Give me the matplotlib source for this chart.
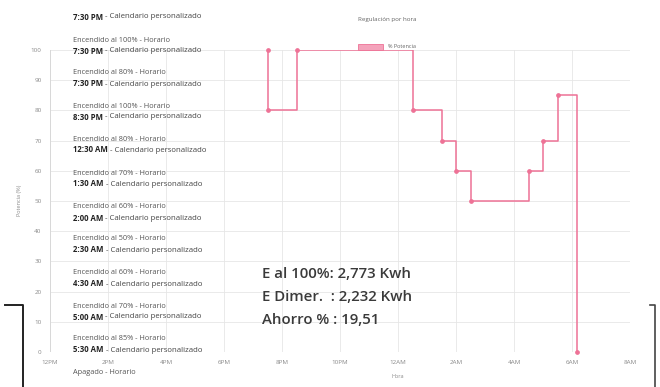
import matplotlib
matplotlib.use("Agg")
import matplotlib.pyplot as plt
from matplotlib.lines import Line2D
from matplotlib.patches import Rectangle

# -----------------------------
# Data
# -----------------------------
event_times = ["19:30", "19:30", "20:30", "00:30", "01:30", "02:00",
               "02:30", "04:30", "05:00", "05:30", "06:10"]
event_levels = [100, 80, 100, 80, 70, 60, 50, 60, 70, 85, 0]
event_labels = ["7:30 PM", "7:30 PM", "8:30 PM", "12:30 AM", "1:30 AM", "2:00 AM",
                "2:30 AM", "4:30 AM", "5:00 AM", "5:30 AM", "6:10 AM"]

x_ticks_h = [0, 2, 4, 6, 8, 10, 12, 14, 16, 18, 20]
x_tick_labels = ["12PM", "2PM", "4PM", "6PM", "8PM", "10PM", "12AM",
                 "2AM", "4AM", "6AM", "8AM"]
y_ticks = [0, 10, 20, 30, 40, 50, 60, 70, 80, 90, 100]

summary_lines = ["E al 100%: 2,773 Kwh", "E Dimer.  : 2,232 Kwh", "Ahorro % : 19,51"]

PINK = "#ee7296"
GRID = "#e6e6e6"
TICK = "#8a8a8a"
plt.rcParams['font.family'] = ['Open Sans', 'DejaVu Sans']


def hours_from_noon(hhmm):
    h, m = map(int, hhmm.split(":"))
    t = h + m / 60.0 - 12
    return t if t >= 0 else t + 24


xs = [hours_from_noon(t) for t in event_times]

fig = plt.figure(figsize=(6.6, 3.87), dpi=100)
ax = fig.add_axes([50 / 660, 1 - 352 / 387, 580 / 660, 302 / 387])

ax.plot(xs, event_levels, drawstyle="steps-post", color=PINK, linewidth=1.1)
ax.plot(xs, event_levels, linestyle="none", marker="o", markersize=2.4,
        color=PINK, clip_on=False)

ax.set_xlim(0, 20)
ax.set_ylim(0, 100)
ax.set_xticks(x_ticks_h)
ax.set_xticklabels(x_tick_labels)
ax.set_yticks(y_ticks)
ax.tick_params(axis="both", length=0, labelsize=4.5, colors=TICK, pad=6)
ax.grid(True, color=GRID, linewidth=0.6)
for s in ax.spines.values():
    s.set_visible(False)
ax.axvline(0, color="#d8d8d8", linewidth=0.7)
ax.axhline(0, color="#d8d8d8", linewidth=0.7)

# axis titles
fig.text(20 / 660, 1 - 200 / 387, "Potencia (%)", rotation=90, fontsize=4,
         color=TICK, ha="center", va="center")
fig.text(398 / 660, 1 - 377 / 387, "Hora", fontsize=4, color=TICK,
         ha="center", va="center")

# title + legend
fig.text(387 / 660, 1 - 20 / 387, "Regulación por hora", fontsize=4.5,
         color="#666666", ha="center", va="center")
fig.patches.append(Rectangle((358 / 660, 1 - 50 / 387), 25 / 660, 6 / 387,
                             transform=fig.transFigure, facecolor="#f4a3bb",
                             edgecolor=PINK, linewidth=0.6))
fig.text(388 / 660, 1 - 47 / 387, "% Potencia", fontsize=4, color="#666666",
         ha="left", va="center")

# event log overlay on the left
renderer = fig.canvas.get_renderer()


def time_line(y, label):
    t = fig.text(73 / 660, 1 - y / 387, label, fontsize=5.6, fontweight="bold",
                 color="#222222", va="center")
    w = t.get_window_extent(renderer).width
    fig.text((73 + w) / 660, 1 - y / 387, " - Calendario personalizado",
             fontsize=5.6, color="#444444", va="center")


time_line(17, "7:30 PM")
block_y = [40, 73, 106, 139, 173, 207, 239, 273, 306, 339]
for i, y in enumerate(block_y):
    fig.text(73 / 660, 1 - y / 387, f"Encendido al {event_levels[i]}% - Horario",
             fontsize=5.3, color="#555555", va="center")
    time_line(y + 11, event_labels[i])
fig.text(73 / 660, 1 - 373 / 387, "Apagado - Horario", fontsize=5.3,
         color="#555555", va="center")

# energy summary
for i, line in enumerate(summary_lines):
    fig.text(262 / 660, 1 - (274 + 23 * i) / 387, line, fontsize=10.8,
             fontweight="semibold", color="#3a3a3a", va="center")

# frame fragments at bottom corners
fig.lines.append(Line2D([5 / 660, 23 / 660, 23 / 660],
                        [1 - 305 / 387, 1 - 305 / 387, 0],
                        transform=fig.transFigure, color="#222222", linewidth=1.4))
fig.lines.append(Line2D([650 / 660, 655 / 660, 655 / 660],
                        [1 - 305 / 387, 1 - 305 / 387, 0],
                        transform=fig.transFigure, color="#444444", linewidth=1.2))

fig.savefig("out.png", dpi=100)
